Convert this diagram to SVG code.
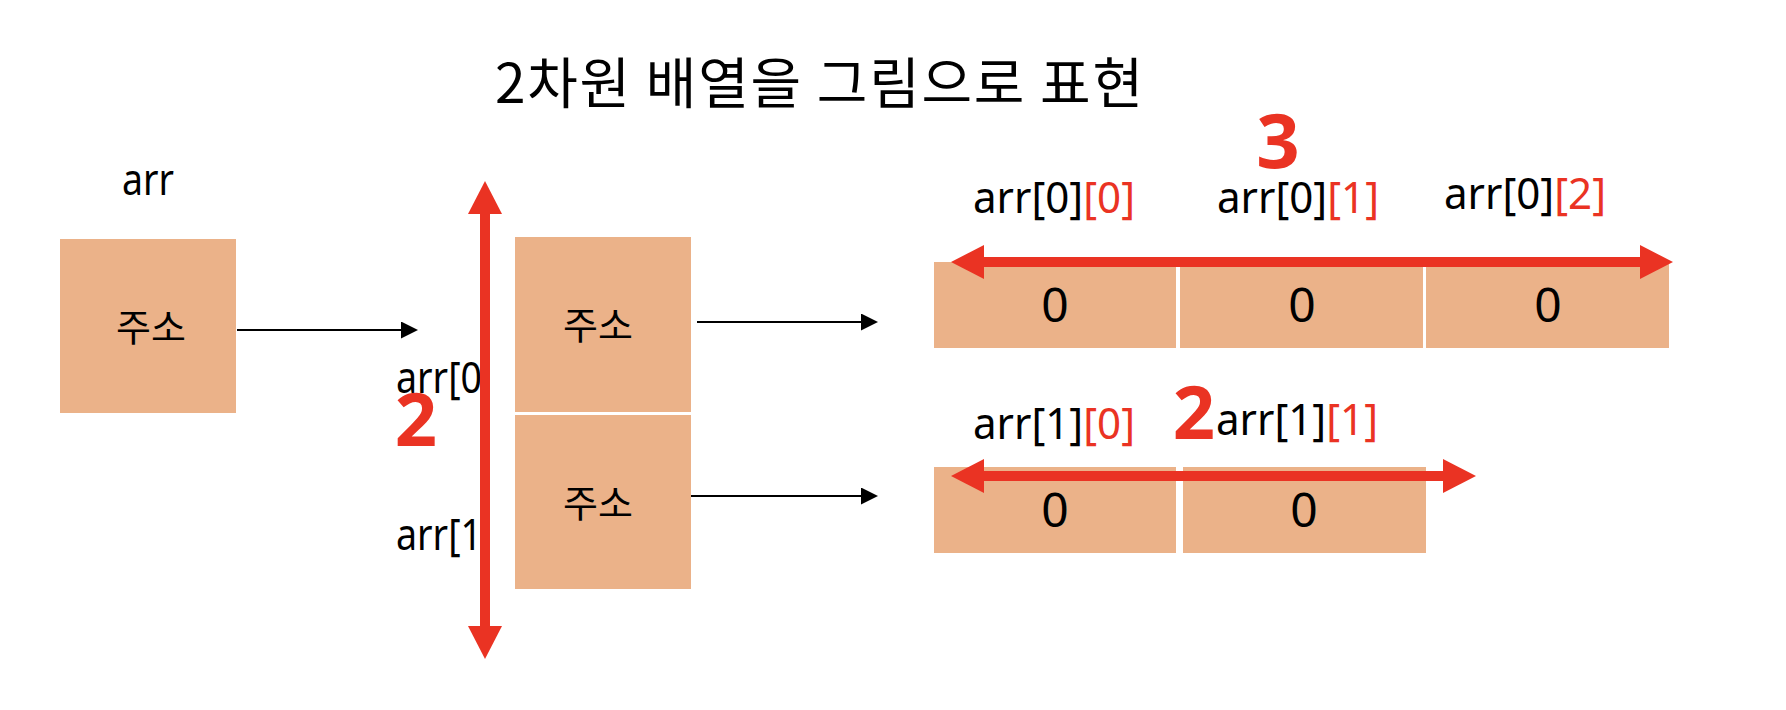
<svg xmlns="http://www.w3.org/2000/svg" width="1786" height="710" viewBox="0 0 1786 710">
<defs>
<style>
.box{fill:#EBB289;}
.t{font-family:"Noto Sans","Noto Sans CJK KR",sans-serif;fill:#000;}
.k{font-family:"Noto Sans CJK KR",sans-serif;fill:#000;}
.red{fill:#EA3323;}
.num{font-family:"Noto Sans","Liberation Sans",sans-serif;font-weight:bold;fill:#EA3323;}
.blk{stroke:#000;stroke-width:2;fill:none;}
.rd{stroke:#EA3323;stroke-width:10;fill:none;}
</style>
<marker id="ah" markerUnits="userSpaceOnUse" markerWidth="18" markerHeight="18" refX="0" refY="8.5" orient="auto">
<path d="M0,0 L17,8.5 L0,17 z" fill="#000"/>
</marker>
<marker id="rh" markerUnits="userSpaceOnUse" markerWidth="34" markerHeight="34" refX="0" refY="17" orient="auto-start-reverse">
<path d="M0,0 L33,17 L0,34 z" fill="#EA3323"/>
</marker>
</defs>
<rect width="1786" height="710" fill="#fff"/>

<text id="title" class="k" x="495" y="103" font-size="55" textLength="648" lengthAdjust="spacing">2차원 배열을 그림으로 표현</text>

<g id="arr-var">
<text class="t" x="122" y="195" font-size="44" textLength="52" lengthAdjust="spacingAndGlyphs">arr</text>
<rect class="box" x="60" y="239" width="176" height="174"/>
<text class="k" x="151" y="341" font-size="38" text-anchor="middle">주소</text>
</g>

<g id="row-labels">
<text class="t" x="396" y="393" font-size="44" textLength="86" lengthAdjust="spacingAndGlyphs">arr[0</text>
<text class="t" x="396" y="550" font-size="44" textLength="86" lengthAdjust="spacingAndGlyphs">arr[1</text>
</g>

<g id="ptr0">
<rect class="box" x="515" y="237" width="176" height="175"/>
<text class="k" x="598" y="339" font-size="38" text-anchor="middle">주소</text>
</g>
<g id="ptr1">
<rect class="box" x="515" y="415" width="176" height="174"/>
<text class="k" x="598" y="517" font-size="38" text-anchor="middle">주소</text>
</g>

<g id="row0">
<rect class="box" x="934" y="262" width="242" height="86"/>
<rect class="box" x="1180" y="262" width="243" height="86"/>
<rect class="box" x="1426" y="262" width="243" height="86"/>
<text class="t" x="1055" y="322" font-size="48" text-anchor="middle">0</text>
<text class="t" x="1302" y="322" font-size="48" text-anchor="middle">0</text>
<text class="t" x="1548" y="322" font-size="48" text-anchor="middle">0</text>
<text class="t" x="973" y="213" font-size="44" textLength="162" lengthAdjust="spacingAndGlyphs">arr[0]<tspan class="red">[0]</tspan></text>
<text class="t" x="1217" y="213" font-size="44" textLength="162" lengthAdjust="spacingAndGlyphs">arr[0]<tspan class="red">[1]</tspan></text>
<text class="t" x="1444" y="209" font-size="44" textLength="162" lengthAdjust="spacingAndGlyphs">arr[0]<tspan class="red">[2]</tspan></text>
</g>

<g id="row1">
<rect class="box" x="934" y="467" width="242" height="86"/>
<rect class="box" x="1183" y="467" width="243" height="86"/>
<text class="t" x="1055" y="527" font-size="48" text-anchor="middle">0</text>
<text class="t" x="1304" y="527" font-size="48" text-anchor="middle">0</text>
<text class="t" x="973" y="439" font-size="44" textLength="162" lengthAdjust="spacingAndGlyphs">arr[1]<tspan class="red">[0]</tspan></text>
<text class="t" x="1216" y="435" font-size="44" textLength="162" lengthAdjust="spacingAndGlyphs">arr[1]<tspan class="red">[1]</tspan></text>
</g>

<g id="connectors">
<line class="blk" x1="237" y1="330" x2="401" y2="330" marker-end="url(#ah)"/>
<line class="blk" x1="697" y1="322" x2="861" y2="322" marker-end="url(#ah)"/>
<line class="blk" x1="691" y1="496" x2="861" y2="496" marker-end="url(#ah)"/>
<line class="rd" x1="485" y1="214" x2="485" y2="626" marker-start="url(#rh)" marker-end="url(#rh)"/>
<line class="rd" x1="984" y1="262" x2="1640" y2="262" marker-start="url(#rh)" marker-end="url(#rh)"/>
<line class="rd" x1="984" y1="476" x2="1443" y2="476" marker-start="url(#rh)" marker-end="url(#rh)"/>
</g>

<g id="counts">
<text class="num" x="416" y="446" font-size="74" text-anchor="middle">2</text>
<text class="num" x="1278" y="168" font-size="76" text-anchor="middle">3</text>
<text class="num" x="1194" y="439" font-size="74" text-anchor="middle">2</text>
</g>
</svg>
